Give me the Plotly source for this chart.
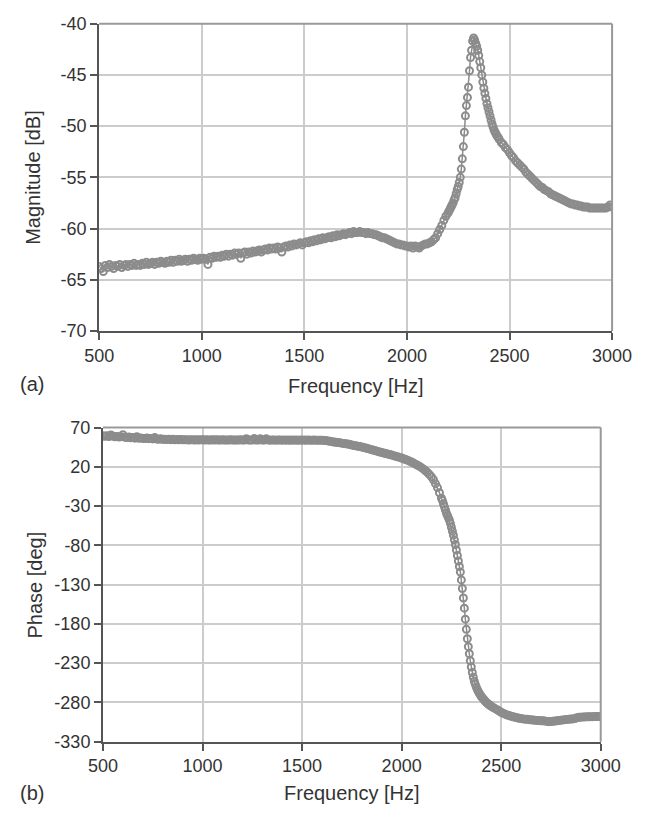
import plotly.graph_objects as go

# Frequency-response measurement: magnitude (a) and phase (b)

W, H = 651, 818
MARK = "#8c8c8c"
GRID = "#cccccc"
AXIS = "#555555"
TEXT = "#333333"
FONT = "Liberation Sans, Arial, sans-serif"

# sweep grid: 10 Hz steps, 5 Hz around the resonance
freq = list(range(500, 2201, 10)) + list(range(2205, 2451, 5)) + list(range(2460, 3001, 10))

freq_ticks = [500, 1000, 1500, 2000, 2500, 3000]
mag_ticks = [-70, -65, -60, -55, -50, -45, -40]
phase_ticks = [-330, -280, -230, -180, -130, -80, -30, 20, 70]

magnitude_db = [
    # 500 - 630
    -63.7, -63.9, -64.2, -63.6, -63.8, -63.5, -63.7, -63.9, -63.6, -63.7, -63.5, -63.8, -63.6, -63.5,
    # 640 - 1000
    -63.7, -63.5, -63.6, -63.4, -63.6, -63.5, -63.6, -63.4, -63.5, -63.3, -63.5, -63.4, -63.3, -63.5,
    -63.3, -63.4, -63.2, -63.3, -63.4, -63.2, -63.3, -63.1, -63.3, -63.1, -63.2, -63.0, -63.2, -63.1,
    -63.0, -63.2, -63.0, -63.1, -62.9, -63.0, -63.1, -62.9, -63.0,
    # 1010 - 1250
    -62.9, -63.0, -63.5, -62.8, -62.9, -62.7, -62.8, -62.7, -62.8, -62.6, -62.7, -62.5, -62.7, -62.5,
    -62.6, -62.4, -62.5, -62.4, -62.9, -62.4, -62.3, -62.5, -62.3, -62.4, -62.2,
    # 1260 - 1500
    -62.3, -62.2, -62.1, -62.3, -62.1, -62.0, -62.1, -61.9, -62.0, -61.9, -62.0, -61.8, -61.9, -62.3,
    -61.8, -61.7, -61.8, -61.6, -61.7, -61.5, -61.6, -61.5, -61.4, -61.6, -61.4,
    # 1510 - 1700
    -61.3, -61.4, -61.2, -61.3, -61.1, -61.2, -61.0, -61.1, -60.9, -61.0, -60.9, -60.8, -60.9, -60.7,
    -60.8, -60.6, -60.7, -60.6, -60.5, -60.6,
    # 1710 - 1850
    -60.5, -60.4, -60.5, -60.3, -60.4, -60.4, -60.3, -60.4, -60.4, -60.5, -60.4, -60.5, -60.5, -60.6, -60.6,
    # 1860 - 2000
    -60.7, -60.8, -60.9, -60.9, -61.0, -61.1, -61.2, -61.3, -61.4, -61.5, -61.5, -61.6, -61.6, -61.7, -61.7,
    # 2010 - 2200
    -61.8, -61.7, -61.9, -61.7, -61.8, -61.9, -61.7, -61.6, -61.5, -61.5, -61.4, -61.3, -61.1, -60.9,
    -60.5, -60.1, -59.7, -59.2, -58.8, -58.5,
    # 2205 - 2450 (5 Hz)
    -58.3, -58.1, -57.9, -57.7, -57.5, -57.2, -57.0, -56.6, -56.2, -55.9,
    -55.5, -55.0, -54.2, -53.2, -52.0, -50.6, -49.0, -48.0, -47.2, -46.2,
    -44.6, -43.3, -42.6, -41.7, -41.4, -41.6, -41.9, -42.2, -42.6, -43.1,
    -43.7, -44.3, -45.0, -45.7, -46.3, -46.8, -47.3, -47.8, -48.2, -48.6,
    -49.0, -49.4, -49.8, -50.1, -50.4, -50.6, -50.8, -51.0, -51.1, -51.3,
    # 2460 - 3000
    -51.6, -51.8, -52.1, -52.3, -52.6, -52.9, -53.1, -53.4, -53.6, -53.8,
    -54.0, -54.2, -54.5, -54.7, -54.9, -55.1, -55.3, -55.5, -55.7, -55.9,
    -56.0, -56.2, -56.3, -56.4, -56.6, -56.7, -56.8, -56.9, -57.0, -57.1,
    -57.2, -57.3, -57.4, -57.5, -57.6, -57.6, -57.7, -57.7, -57.8, -57.8,
    -57.9, -57.9, -57.9, -58.0, -58.0, -58.0, -58.0, -58.0, -58.0, -58.0,
    -58.0, -58.0, -57.9, -57.7, -57.9,
]

phase_deg = [
    # 500 - 630
    59.5, 58.8, 59.6, 58.5, 60.5, 59.0, 58.2, 58.6, 57.8, 58.4, 60.8, 57.6, 57.2, 57.8,
    # 640 - 1000
    56.9, 57.3, 56.5, 58.3, 56.4, 56.8, 56.2, 56.0, 56.6, 55.8, 56.2, 55.5, 57.2, 55.4,
    55.1, 55.6, 54.9, 55.2, 54.8, 55.0, 54.6, 55.0, 54.5, 54.8, 54.4, 54.7, 54.5, 54.3,
    54.6, 54.2, 54.5, 54.3, 54.1, 54.4, 54.2, 54.5, 54.3,
    # 1010 - 1250
    54.1, 54.4, 54.2, 54.0, 54.3, 54.1, 54.4, 54.2, 54.0, 54.3, 54.1, 54.2, 54.0, 54.3,
    54.1, 54.0, 54.2, 54.1, 54.3, 54.0, 54.2, 55.8, 54.1, 54.0, 54.2,
    # 1260 - 1500
    55.9, 54.0, 54.2, 55.7, 54.1, 54.0, 55.6, 54.1, 53.9, 54.2, 54.0, 53.9, 54.1, 54.0,
    53.9, 54.1, 53.9, 54.0, 53.8, 54.1, 53.9, 54.0, 53.8, 54.0, 53.9,
    # 1510 - 1700
    54.1, 53.8, 54.0, 53.9, 53.8, 54.0, 53.9, 53.8, 53.9, 53.7, 53.6, 53.4, 53.0, 52.5,
    52.0, 51.6, 51.2, 50.9, 50.5, 50.1,
    # 1710 - 1850
    49.7, 49.3, 48.9, 48.4, 47.8, 47.2, 46.7, 46.2, 45.7, 45.2, 44.6, 43.9, 43.2, 42.5, 41.8,
    # 1860 - 2000
    41.0, 40.3, 39.6, 38.9, 38.3, 37.6, 37.0, 36.3, 35.6, 34.9, 34.2, 33.5, 32.8, 32.0, 31.2,
    # 2010 - 2200
    30.3, 29.3, 28.3, 27.2, 26.0, 24.7, 23.4, 22.0, 20.5, 18.9, 17.0, 15.0, 12.7, 10.1,
    7.2, 3.5, -1.5, -6.5, -13.0, -20.0,
    # 2205 - 2450 (5 Hz)
    -23, -27, -31, -35, -39, -42, -45, -48, -52, -57,
    -62, -67, -73, -79, -86, -93, -100, -107, -114, -124,
    -135, -147, -160, -174, -187, -199, -209, -218, -227, -235,
    -242, -248, -253, -257, -260.5, -263.5, -266, -268.5, -270.5, -272.5,
    -274, -275.5, -277, -278.5, -280, -281, -282, -283, -284, -285,
    # 2460 - 3000
    -286.5, -288, -289.5, -291, -292.5, -293.8, -295, -296, -296.8, -297.6,
    -298.3, -299, -299.6, -300.2, -300.6, -301, -301.3, -301.6, -302, -302.2,
    -302.5, -302.7, -302.9, -303.1, -303.3, -303.5, -303.8, -304.2, -304.5, -304.3,
    -304, -303.8, -303.5, -303, -302.6, -302.3, -302, -301.7, -301.5, -301.2,
    -301, -300.5, -299.5, -299, -298.8, -298.6, -298.5, -298.4, -298.3, -298.2,
    -298.2, -298.1, -298, -298, -297.8,
]

assert len(freq) == len(magnitude_db) == len(phase_deg)


def px(x, y):
    """Pixel position in the 651x818 page -> paper coordinates."""
    return x / W, 1 - y / H


def hyphen_ticks(vals):
    # plain hyphen-minus like the original, not plotly's unicode minus
    return dict(tickmode="array", tickvals=vals, ticktext=[str(v) for v in vals])


fig = go.Figure()

for xname, yname, values in (("x", "y", magnitude_db), ("x2", "y2", phase_deg)):
    fig.add_trace(
        go.Scatter(
            x=freq,
            y=values,
            xaxis=xname,
            yaxis=yname,
            mode="lines+markers",
            line=dict(color=MARK, width=1.5),
            marker=dict(symbol="circle-open", size=7, color=MARK, line=dict(width=2)),
            showlegend=False,
            hoverinfo="x+y",
        )
    )

axis_style = dict(
    showgrid=True,
    gridcolor=GRID,
    gridwidth=1.5,
    zeroline=False,
    showline=True,
    linecolor=AXIS,
    linewidth=2,
    ticks="outside",
    ticklen=7,
    tickwidth=1.5,
    tickcolor=AXIS,
    tickfont=dict(family=FONT, size=18, color=TEXT),
)

fig.update_layout(
    width=W,
    height=H,
    margin=dict(l=0, r=0, t=0, b=0),
    plot_bgcolor="white",
    paper_bgcolor="white",
    font=dict(family=FONT, color=TEXT),
    xaxis=dict(axis_style, domain=[89 / W, 631 / W], range=[500, 3000], anchor="y",
               **hyphen_ticks(freq_ticks)),
    yaxis=dict(axis_style, domain=[1 - 329 / H, 1 - 14 / H], range=[-70, -40], anchor="x",
               **hyphen_ticks(mag_ticks)),
    xaxis2=dict(axis_style, domain=[93 / W, 619 / W], range=[500, 3000], anchor="y2",
                **hyphen_ticks(freq_ticks)),
    yaxis2=dict(axis_style, domain=[1 - 750 / H, 1 - 428 / H], range=[-330, 70], anchor="x2",
                **hyphen_ticks(phase_ticks)),
)

# lighter frame on the top and right edges
for xa, ya in (("x", "y"), ("x2", "y2")):
    fig.add_shape(type="line", xref=f"{xa} domain", yref=f"{ya} domain",
                  x0=0, x1=1, y0=1, y1=1, line=dict(color="#999999", width=2))
    fig.add_shape(type="line", xref=f"{xa} domain", yref=f"{ya} domain",
                  x0=1, x1=1, y0=0, y1=1, line=dict(color="#999999", width=2))

labels = [
    ("Frequency [Hz]", 360, 385, 0),
    ("(a)", 18, 383, 0),
    ("Magnitude [dB]", 19, 171, -90),
    ("Frequency [Hz]", 356, 803, 0),
    ("(b)", 18, 803, 0),
    ("Phase [deg]", 21, 589, -90),
]
for text, x, y, angle in labels:
    ax, ay = px(x, y)
    fig.add_annotation(
        text=text, x=ax, y=ay, xref="paper", yref="paper",
        showarrow=False, textangle=angle, xanchor="center", yanchor="middle",
        font=dict(family=FONT, size=20, color=TEXT),
    )

# drop the default 8px body margin so the figure fills the window exactly
fig.write_html(
    "out.html",
    config={"displayModeBar": False},
    post_script="document.body.style.margin = '0';",
)
